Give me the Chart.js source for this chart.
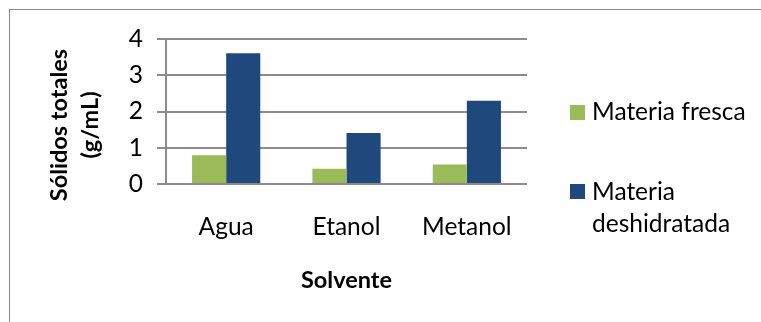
<!DOCTYPE html>
<html><head><meta charset="utf-8">
<script src="https://cdn.jsdelivr.net/npm/chart.js@4/dist/chart.umd.min.js"></script>
<style>
html,body{margin:0;padding:0;background:#fff;}
#wrap{position:relative;width:761px;height:322px;overflow:hidden;}
#frame{position:absolute;left:9px;top:9px;width:800px;height:400px;border:1px solid #8a8a8a;}
canvas{position:absolute;left:0;top:0;}
</style></head>
<body>
<div id="wrap"><div id="frame"></div><canvas id="c" width="761" height="322"></canvas></div>
<script>
const categories = ['Agua', 'Etanol', 'Metanol'];
const fresca = [0.79, 0.42, 0.54];
const deshidratada = [3.61, 1.41, 2.30];
const yTicks = [0, 1, 2, 3, 4];
const seriesNames = ['Materia fresca', ['Materia', 'deshidratada']];
const yTitle = ['Sólidos totales', '(g/mL)'];
const xTitle = 'Solvente';
const FONT = 'Lato, Carlito, "Open Sans", sans-serif';
const GREEN = '#9BBB59', BLUE = '#1F497D';
const FS = 24.5;

const overlay = {
  id: 'overlay',
  afterDraw(chart) {
    const ctx = chart.ctx, a = chart.chartArea;
    ctx.save();
    ctx.fillStyle = '#000';
    ctx.font = 'bold 23.5px ' + FONT;
    ctx.textAlign = 'center'; ctx.textBaseline = 'middle';
    ctx.save();
    ctx.translate(0, 125);
    ctx.rotate(-Math.PI / 2);
    ctx.fillText(yTitle[0], 0, 59);
    ctx.fillText(yTitle[1], 0, 90);
    ctx.restore();
    ctx.fillText(xTitle, (a.left + a.right) / 2, 280);
    ctx.font = FS + 'px ' + FONT;
    ctx.textAlign = 'left'; ctx.textBaseline = 'middle';
    ctx.fillStyle = GREEN; ctx.fillRect(570, 105, 15, 15);
    ctx.fillStyle = BLUE; ctx.fillRect(570, 184, 15, 15);
    ctx.fillStyle = '#000';
    ctx.fillText(seriesNames[0], 592, 112);
    ctx.fillText(seriesNames[1][0], 592, 192);
    ctx.fillText(seriesNames[1][1], 592, 224);
    ctx.restore();
  }
};

new Chart(document.getElementById('c'), {
  type: 'bar',
  data: {
    labels: categories,
    datasets: [
      { label: 'Materia fresca', data: fresca, backgroundColor: GREEN },
      { label: 'Materia deshidratada', data: deshidratada, backgroundColor: BLUE }
    ]
  },
  options: {
    responsive: false,
    animation: false,
    devicePixelRatio: 1,
    categoryPercentage: 0.567,
    barPercentage: 1,
    layout: { padding: { left: 0, right: 234, top: 39, bottom: 0 } },
    plugins: { legend: { display: false }, tooltip: { enabled: false } },
    scales: {
      x: {
        grid: { display: false, drawTicks: false },
        border: { display: false },
        ticks: { color: '#000', font: { family: FONT, size: FS }, padding: 28 },
        afterFit(s) { s.height = 138; }
      },
      y: {
        min: 0, max: 4,
        afterBuildTicks(s) { s.ticks = yTicks.map(v => ({ value: v })); },
        grid: { color: '#8c8c8c', lineWidth: 2, tickLength: 9 },
        border: { color: '#8c8c8c', width: 2 },
        ticks: { color: '#000', font: { family: FONT, size: FS }, padding: 14 },
        afterFit(s) { s.width = 166; }
      }
    }
  },
  plugins: [overlay]
});
</script>
</body></html>
